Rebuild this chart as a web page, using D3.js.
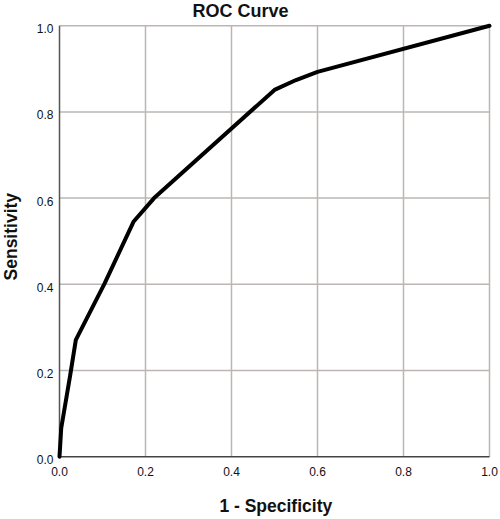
<!DOCTYPE html>
<html><head><meta charset="utf-8">
<script src="https://cdn.jsdelivr.net/npm/d3@7"></script>
<style>body{margin:0;background:#fff;} svg{display:block;}</style>
</head><body>
<svg id="c" width="500" height="519"></svg>
<script>
const fpr = [0.0, 0.004, 0.025, 0.038, 0.105, 0.172, 0.22, 0.5, 0.55, 0.6, 1.0];
const tpr = [0.0, 0.066, 0.19, 0.271, 0.402, 0.545, 0.600, 0.851, 0.874, 0.893, 1.0];
const xTicks = [0.0, 0.2, 0.4, 0.6, 0.8, 1.0];
const yTicks = [0.0, 0.2, 0.4, 0.6, 0.8, 1.0];
const title = "ROC Curve";
const xLabel = "1 - Specificity";
const yLabel = "Sensitivity";

const svg = d3.select("#c");
const m = {l:59.5, r:10.5, t:25.7, b:62.3};
const W = 500, H = 519;
const x = d3.scaleLinear().domain([0,1]).range([m.l, W - m.r]);
const y = d3.scaleLinear().domain([0,1]).range([H - m.b, m.t]);
const font = "Arial, 'Liberation Sans', sans-serif";

// gridlines
svg.append("g").selectAll("line").data(xTicks.slice(1)).join("line")
  .attr("x1", d => x(d)).attr("x2", d => x(d))
  .attr("y1", y(0)).attr("y2", y(1))
  .attr("stroke", "#bbb6b3").attr("stroke-width", 1.5);
svg.append("g").selectAll("line").data(yTicks.slice(1)).join("line")
  .attr("x1", x(0)).attr("x2", x(1))
  .attr("y1", d => y(d)).attr("y2", d => y(d))
  .attr("stroke", "#bbb6b3").attr("stroke-width", 1.5);

// axes lines
svg.append("line").attr("x1", x(0)).attr("x2", x(0)).attr("y1", y(0)).attr("y2", y(1))
  .attr("stroke", "#555").attr("stroke-width", 1.5);
svg.append("line").attr("x1", x(0)).attr("x2", x(1)).attr("y1", y(0)).attr("y2", y(0))
  .attr("stroke", "#444").attr("stroke-width", 1.5);

// tick labels
svg.append("g").selectAll("text").data(xTicks).join("text")
  .attr("x", d => x(d)).attr("y", y(0) + 19)
  .attr("text-anchor", "middle").attr("font-family", font).attr("font-size", 12)
  .attr("fill", "#111").text(d => d3.format(".1f")(d));
svg.append("g").selectAll("text").data(yTicks).join("text")
  .attr("x", x(0) - 6).attr("y", d => y(d) + 7.5)
  .attr("text-anchor", "end").attr("font-family", font).attr("font-size", 12)
  .attr("fill", "#111").text(d => d3.format(".1f")(d));

// curve
const pts = fpr.map((v, i) => [v, tpr[i]]);
svg.append("path").datum(pts)
  .attr("d", d3.line().x(d => x(d[0])).y(d => y(d[1])))
  .attr("fill", "none").attr("stroke", "#000").attr("stroke-width", 4)
  .attr("stroke-linejoin", "round").attr("stroke-linecap", "round");

// title & labels
svg.append("text").attr("x", 240.5).attr("y", 17).attr("text-anchor", "middle")
  .attr("font-family", font).attr("font-weight", "bold").attr("font-size", 18)
  .attr("fill", "#111").text(title);
svg.append("text").attr("x", 275.8).attr("y", 511.5).attr("text-anchor", "middle")
  .attr("font-family", font).attr("font-weight", "bold").attr("font-size", 17.5)
  .attr("fill", "#111").text(xLabel);
svg.append("text").attr("transform", "translate(16.5,236.7) rotate(-90)")
  .attr("text-anchor", "middle")
  .attr("font-family", font).attr("font-weight", "bold").attr("font-size", 17.5)
  .attr("fill", "#111").text(yLabel);
</script>
</body></html>
